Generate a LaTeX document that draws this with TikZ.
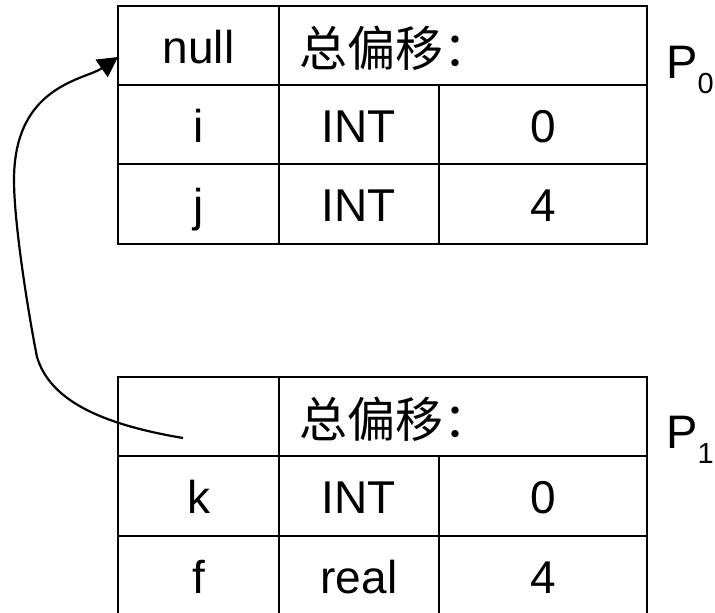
\documentclass[tikz,border=0pt]{standalone}
\usepackage{fontspec}
\setmainfont{Liberation Sans}
\newfontfamily\cjk{Noto Sans CJK SC}
\usetikzlibrary{arrows.meta}
\begin{document}
\begin{tikzpicture}[x=1pt,y=-1pt,
  grid/.style={line width=2.2pt},
  cell/.style={anchor=base,inner sep=0pt,font=\fontsize{46}{50}\selectfont},
  cjklabel/.style={anchor=base west,inner sep=0pt,font=\cjk\fontsize{48}{52}\selectfont},
  plabel/.style={anchor=base west,inner sep=0pt,font=\fontsize{47}{50}\selectfont},
  link/.style={line width=2.2pt,-{Triangle[length=20pt,width=21pt]}}]
\useasboundingbox (0,0) rectangle (715,613);

% ---- table P0 ----
\draw[grid] (118,6) rectangle (647,244);
\draw[grid] (118,85) -- (647,85);
\draw[grid] (118,164) -- (647,164);
\draw[grid] (279,6) -- (279,244);
\draw[grid] (439,85) -- (439,244);

\node[cell] (t0null) at (198.5,63) {null};
\node[cjklabel] (t0sum) at (299,66) {总偏移：};
\node[cell] (t0i) at (198.5,142) {i};
\node[cell] (t0it) at (359,142) {INT};
\node[cell] (t0io) at (543,142) {0};
\node[cell] (t0j) at (198.5,221) {j};
\node[cell] (t0jt) at (359,221) {INT};
\node[cell] (t0jo) at (543,221) {4};
\node[plabel] (p0) at (666,78) {P\raisebox{-15pt}{\fontsize{29}{30}\selectfont 0}};

% ---- table P1 ----
\draw[grid] (118,377) rectangle (647,615);
\draw[grid] (118,456) -- (647,456);
\draw[grid] (118,536) -- (647,536);
\draw[grid] (279,377) -- (279,615);
\draw[grid] (439,456) -- (439,615);

\node[cjklabel] (t1sum) at (299,437) {总偏移：};
\node[cell] (t1k) at (198.5,513) {k};
\node[cell] (t1kt) at (359,513) {INT};
\node[cell] (t1ko) at (543,513) {0};
\node[cell] (t1f) at (198.5,593) {f};
\node[cell] (t1ft) at (359,593) {real};
\node[cell] (t1fo) at (543,593) {4};
\node[plabel] (p1) at (666,448) {P\raisebox{-15pt}{\fontsize{29}{30}\selectfont 1}};

% ---- link from P1's first cell back to P0 ----
\coordinate (tail) at (183,438);
\coordinate (head) at (118,57);
\draw[link] (tail) .. controls (100,424) and (50,400) .. (37,357)
  .. controls (29,317) and (14,225) .. (14,180)
  .. controls (14,85) and (85,80) .. (head);
\end{tikzpicture}
\end{document}
